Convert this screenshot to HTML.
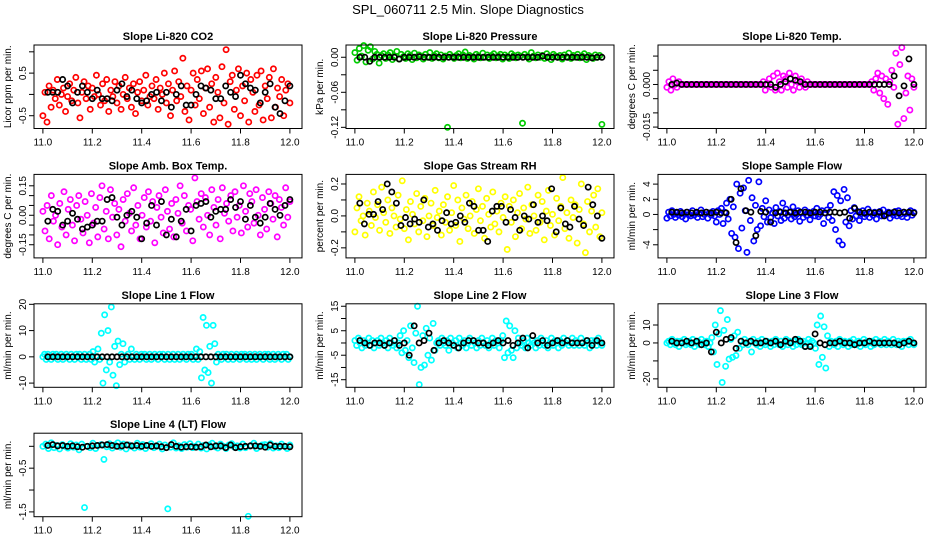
<!DOCTYPE html>
<html><head><meta charset="utf-8"><style>
html,body{margin:0;padding:0;background:#fff}
svg text{font-family:"Liberation Sans",sans-serif}
</style></head><body>
<svg id="chart" width="936" height="540" viewBox="0 0 936 540" xmlns="http://www.w3.org/2000/svg">
<rect width="936" height="540" fill="#fff"/>
<text x="468" y="14" text-anchor="middle" font-size="13">SPL_060711  2.5 Min. Slope Diagnostics</text>
</svg>
<script>
const xTicks=[11.0,11.2,11.4,11.6,11.8,12.0];
const xTickLabels=["11.0","11.2","11.4","11.6","11.8","12.0"];
const co2Color=[-50,5,-65,20,-30,10,-10,35,-25,0,15,-40,-5,25,-15,10,40,-20,-55,5,30,-10,20,-35,15,-5,45,0,-25,25,-15,35,-40,10,-5,30,-20,20,-35,0,40,-10,15,-30,25,-45,5,30,-15,10,45,-25,-5,20,-10,35,-35,15,0,50,-20,25,-50,10,55,-15,30,-5,85,-40,20,-60,10,50,-25,35,-10,55,-45,15,60,-30,25,-65,40,5,-55,65,-20,105,-70,30,45,-35,10,60,-50,20,-15,50,-65,35,5,-40,45,-25,55,-60,20,-10,40,-55,60,-30,15,-5,35,-50,10,25,-20];
const co2Black=[5,5,5,35,20,-20,5,20,5,-10,10,-10,-10,-15,10,25,-5,10,-10,-20,-15,0,5,-15,5,-30,0,20,-25,-25,0,20,15,10,-10,-10,20,5,-5,45,25,15,10,-20,5,25,-30,-45,-15,20];
const presColor=[8,-5,15,2,20,-8,12,18,-3,10,5,-10,3,6,-2,4,8,-4,2,10,-3,5,1,-2,6,3,-4,7,-1,4,2,-3,5,0,8,-2,3,6,-1,4,-3,2,-120,5,1,-2,3,6,-1,4,9,-2,3,1,-3,5,2,-1,7,0,4,-2,3,6,-1,2,5,-3,4,1,-2,6,3,-1,4,2,-113,5,1,-3,8,2,-1,4,0,3,-2,6,1,-4,5,2,0,3,-3,4,1,7,-2,3,0,5,-1,2,6,-4,3,1,-2,4,0,3,-115];
const presBlack=[0,0,-7,0,0,0,0,0,-3,0,0,0,1,0,0,0,0,0,0,0,0,0,0,0,0,0,0,0,0,0,0,0,0,0,0,0,0,2,0,0,0,0,0,0,0,0,0,-1,0,0];
const tempColor=[-1,1,-2,2,0,-1,1,0,0,0,0,0,0,0,0,0,0,0,0,0,0,0,0,0,0,0,0,0,0,0,0,0,0,0,0,0,0,0,0,0,0,0,0,0,0,0,0,0,1,-2,0,2,-1,3,-2,4,1,-2,3,2,-1,4,0,-2,3,1,-1,2,0,-1,1,0,0,0,0,0,0,0,0,0,0,0,0,0,0,0,0,0,0,0,0,0,0,0,0,0,0,0,0,0,0,0,1,-2,2,4,-3,3,-5,2,-7,1,5,-1,11,-14,7,13,-12,-3,3,-9,2,-1];
const tempBlack=[0,0.5,0,0,0,0,0,0,0,0,0,0,0,0,0,0,0,0,0,0,0,-1,0,1,2,1.5,1,0,0,0,0,0,0,0,0,0,0,0,0,0,0,0,0,0,0,3,-4,-0.5,9,0];
const ambColor=[2,-8,5,-12,10,-3,0,-15,6,-6,12,-10,3,8,-5,-13,5,10,-2,-9,7,0,-14,11,-4,4,-11,9,15,-7,2,-12,13,-1,6,-10,3,-16,8,-3,11,1,-8,14,-5,5,-12,0,9,-6,12,-3,7,-14,4,10,-1,-9,13,2,-7,6,-11,8,1,15,-4,10,-8,5,3,-13,19,7,-2,11,-6,9,0,-10,13,4,-5,8,-12,14,1,6,-3,10,-8,12,-1,5,-9,15,2,-6,11,7,-4,13,0,-10,9,3,-7,12,6,-2,10,-11,8,4,-5,14,-1,7];
const ambBlack=[-3,3,2,-5,-3,1,-2,-7,-6,-5,-3,-3,8,9,-1,-5,0,2,-1,-12,-4,5,-5,7,-10,-2,-11,-3,3,-8,5,6,7,-1,2,3,3,8,4,7,-2,5,-1,-4,-1,6,3,0,5,8];
const rhColor=[-10,5,12,-3,0,-12,8,3,-6,15,-1,7,-9,18,2,-4,10,-11,5,0,-7,13,-2,22,-8,4,-15,9,1,-5,14,-10,6,-3,11,-13,0,8,-6,16,-1,3,-12,7,-4,12,-9,2,19,-6,10,-16,5,-2,13,-8,0,9,-11,4,17,-3,6,-14,11,1,-7,15,-5,3,-10,8,-1,12,-21,6,-4,10,-13,2,14,-8,5,-2,18,-11,7,0,-9,13,-4,9,-15,3,16,-6,1,-12,11,-3,6,24,-8,2,-14,10,-1,7,-17,4,20,-5,-23,9,-10,3,13,-7,17,-13,2];
const rhBlack=[8,-5,1,1,9,4,20,15,8,-6,-1,-5,-2,-4,10,-7,-5,-9,-3,2,-5,-4,0,-4,8,6,-9,-9,-16,3,6,6,-4,4,-1,-9,0,-2,7,-4,0,-3,17,-10,5,-5,-7,6,-2,-6,18,7,0,-14];
const flowColor=[-5,3,-2,5,0,-4,2,-1,4,-3,1,-6,3,0,-2,5,-1,2,-4,1,6,-3,0,3,-5,2,-1,4,-2,-10,5,0,8,-12,3,15,-6,20,-25,10,-30,40,-45,28,-18,35,5,-50,45,-8,22,-35,12,-20,43,-15,8,-3,18,-10,6,-4,2,-12,9,-2,4,-8,15,-5,7,-1,3,-6,10,-3,0,5,-9,2,-4,6,-1,3,-7,1,4,-2,8,-3,0,5,-12,2,6,-4,12,-8,30,-20,25,-35,18,-40,33,-10,22,-15,5,-6,9,-2,4,-8,1,5,-3,0,7,-4,2,-1,3,-6,1,4,-2,6,-1,0,3,-5,2,-1,4,-2,5,0,-3,3,1,-4,2,5,-1,3];
const flowBlack=[3,3,2,3,2,3,2,3,2,3,2,2,20,-37,34,5,3,-28,4,3,-10,2,3,2,3,2,3,3,2,3,3,2,3,3,2,3,-5,8,3,2,3,2,3,-2,2,3,2,3,3,2];
const l1Color=[0,1,-1,1,0,-1,1,0,1,-1,0,1,-1,0,1,0,-1,1,0,-1,1,0,1,-1,0,1,-1,0,1,-1,2,-2,0,3,-1,9,-10,16,-5,10,-2,19,-7,4,-11,6,-3,1,5,-2,0,1,-1,3,0,-1,1,0,-1,1,0,1,-1,0,1,-1,0,1,0,-1,1,0,1,-1,0,1,-1,0,1,-1,0,1,-1,0,1,0,-1,1,0,1,-1,0,3,-1,2,-8,15,-5,12,-6,4,-10,12,5,-2,1,0,-1,1,0,1,-1,0,1,-1,0,1,0,-1,1,0,1,-1,0,1,-1,0,1,-1,0,1,0,-1,1,0,1,-1,0,1,-1,0,1,0,-1,1,0,1,-1,0];
const l1Black=[0,0,0,0,0,0,0,0,0,0,0,0,0,0,0,0,0,0,0,0,0,0,0,0,0,0,0,0,0,0,0,0,0,0,0,0,0,0,0,0,0,0,0,0,0,0,0,0,0,0];
const l2Color=[1,-1,2,0,-2,1,-1,0,2,-1,1,-2,0,1,-1,2,0,-1,1,-2,2,0,-1,1,-2,0,3,-4,5,-3,1,-6,7,-2,-8,4,15,-17,-10,3,-9,6,-5,2,-7,8,-3,0,1,-1,2,0,-1,1,-3,2,0,-1,1,-2,2,0,-1,1,-2,0,2,-1,1,0,-2,1,-1,2,0,-1,1,-2,0,2,-1,1,0,-2,1,3,-6,9,-4,7,-3,-6,5,-2,2,0,-1,1,-2,2,0,-1,1,0,-2,1,-1,2,0,-1,1,-2,0,2,-1,1,0,-2,1,-1,2,0,1,-1,0,2,-1,1,0,-1,2,0,-1,1,0,-2,1,0,1,-1,2,0,-1];
const l2Black=[1,0,-1,0,0,-1,0,1,-1,0,-5,7,0,1,4,-3,0,1,0,-1,-2,0,1,1,0,0,-1,0,1,0,1,-1,0,2,-2,3,0,1,-1,0,1,0,1,0,0,0,1,-1,1,0];
const l3Color=[0,1,-1,2,0,-1,1,-2,1,0,2,-1,0,1,-1,2,-2,0,1,-1,2,0,-1,1,-2,0,3,-5,10,-12,5,18,-22,7,-13,13,-9,2,-8,4,-7,6,-3,1,-1,2,0,-1,1,-5,2,0,-1,1,-2,2,0,-1,1,0,-2,1,-1,2,0,-1,1,-2,0,2,-1,1,0,-2,1,-1,2,0,-1,1,-2,0,2,-1,1,0,-3,10,-12,15,-8,9,-14,4,-2,1,0,-1,1,-2,2,0,-1,1,0,-2,1,-1,2,0,-1,1,-2,0,2,-1,1,0,-2,1,-1,2,0,1,-1,0,2,-1,1,0,-1,2,0,-1,1,0,-2,1,0,1,-1,2,0,-1];
const l3Black=[1,0,0,1,0,1,-1,0,-5,6,0,2,3,-3,1,0,1,0,0,1,0,1,-1,1,0,2,1,-2,-2,5,0,-1,0,0,1,0,0,-1,0,0,1,0,0,0,0,0,-1,0,1,0];
const l4Color=[0,5,-5,8,-3,2,-6,4,0,-4,6,-2,3,-8,5,-140,0,-3,7,-5,2,4,-30,-1,6,-4,3,8,-2,5,-6,3,0,-4,7,-2,4,-5,2,6,-3,0,5,-6,3,-143,-2,8,-4,1,-5,4,-2,6,-3,0,5,-4,2,-6,3,7,-1,-4,5,0,-5,3,6,-2,1,-4,5,-3,-160,2,7,-5,0,3,4,-2,6,-4,1,-3,5,0,-5,3];
const l4Black=[2,4,1,2,0,1,-1,-2,0,1,2,3,4,2,0,1,3,1,2,0,2,0,1,-1,-3,4,0,-2,-1,-1,-2,-1,3,-1,1,1,-3,3,-3,-1,0,1,1,0,-2,3,0,0,0,-1];

const panels=[
 {name:"co2",title:"Slope Li-820 CO2",ylab:"Licor ppm per min.",col:0,row:0,color:"#ff0000",c:co2Color,b:co2Black,k:0.01,ymin:-0.8,ymax:1.16,ticks:[-0.5,0,0.5,1.0],labels:["-0.5","","0.5",""]},
 {name:"pressure",title:"Slope Li-820 Pressure",ylab:"kPa per min.",col:1,row:0,color:"#00cc00",c:presColor,b:presBlack,k:0.001,ymin:-0.122,ymax:0.021,ticks:[0,-0.03,-0.06,-0.09,-0.12],labels:["0.00","","-0.06","","-0.12"]},
 {name:"li820-temp",title:"Slope Li-820 Temp.",ylab:"degrees C per min.",col:2,row:0,color:"#ff00ff",c:tempColor,b:tempBlack,k:0.001,ymin:-0.0155,ymax:0.0139,ticks:[0.01,0.005,0,-0.005,-0.01,-0.015],labels:["","","0.000","","","-0.015"]},
 {name:"amb-temp",title:"Slope Amb. Box Temp.",ylab:"degrees C per min.",col:0,row:1,color:"#ff00ff",c:ambColor,b:ambBlack,k:0.01,ymin:-0.217,ymax:0.208,ticks:[0.15,0.1,0.05,0,-0.05,-0.1,-0.15],labels:["0.15","","","0.00","","","-0.15"]},
 {name:"gas-rh",title:"Slope Gas Stream RH",ylab:"percent per min.",col:1,row:1,color:"#ffff00",c:rhColor,b:rhBlack,k:0.01,ymin:-0.263,ymax:0.26,ticks:[0.2,0.1,0,-0.1,-0.2],labels:["0.2","","0.0","","-0.2"]},
 {name:"sample-flow",title:"Slope Sample Flow",ylab:"ml/min per min.",col:2,row:1,color:"#0000ff",c:flowColor,b:flowBlack,k:0.1,ymin:-5.73,ymax:5.28,ticks:[4,2,0,-2,-4],labels:["4","2","0","","-4"]},
 {name:"line1-flow",title:"Slope Line 1 Flow",ylab:"ml/min per min.",col:0,row:2,color:"#00ffff",c:l1Color,b:l1Black,k:1,ymin:-11.6,ymax:20.2,ticks:[20,10,0,-10],labels:["20","10","0","-10"]},
 {name:"line2-flow",title:"Slope Line 2 Flow",ylab:"ml/min per min.",col:1,row:2,color:"#00ffff",c:l2Color,b:l2Black,k:1,ymin:-18.1,ymax:16,ticks:[15,10,5,0,-5,-10,-15],labels:["15","","5","","-5","","-15"]},
 {name:"line3-flow",title:"Slope Line 3 Flow",ylab:"ml/min per min.",col:2,row:2,color:"#00ffff",c:l3Color,b:l3Black,k:1,ymin:-24.7,ymax:21.8,ticks:[10,0,-10,-20],labels:["10","0","","-20"]},
 {name:"line4-flow",title:"Slope Line 4 (LT) Flow",ylab:"ml/min per min.",col:0,row:3,color:"#00ffff",c:l4Color,b:l4Black,k:0.01,ymin:-1.61,ymax:0.30,ticks:[0,-0.5,-1.0,-1.5],labels:["","-0.5","","-1.5"]}
];
const NS="http://www.w3.org/2000/svg";
const svg=document.getElementById('chart');
function mk(tag,attrs,parent){const e=document.createElementNS(NS,tag);for(const k in attrs)e.setAttribute(k,attrs[k]);(parent||svg).appendChild(e);return e;}
const XMIN=10.964,XMAX=12.049;
panels.forEach(p=>{
 const g=mk('g',{});
 
 
 const L=p.col*312+34,R=p.col*312+302,T=45+p.row*129.4,B=T+83.5;
 const sx=v=>L+(v-XMIN)/(XMAX-XMIN)*(R-L);
 const sy=v=>B-(v-p.ymin)/(p.ymax-p.ymin)*(B-T);
 const t=mk('text',{x:(L+R)/2,y:T-5,'text-anchor':'middle','font-size':11,'font-weight':'bold'},g);
 t.textContent=p.title;
 
 
 const yl=mk('text',{x:0,y:0,'text-anchor':'middle','font-size':10,transform:`translate(${p.col*312+11},${(T+B)/2}) rotate(-90)`},g);
 yl.textContent=p.ylab;
 
 
 const pts=mk('g',{fill:'none','stroke-width':1.7},g);
 
 
 p.c.forEach((v,i)=>{
  const c=mk('circle',{cx:sx(11+i/(p.c.length-1)),cy:sy(v*p.k),r:2.6,stroke:p.color},pts);
  
  
 });
 p.b.forEach((v,i)=>{
  const c=mk('circle',{cx:sx(11.02+0.98*i/(p.b.length-1)),cy:sy(v*p.k),r:2.6,stroke:'#000'},pts);
  
  
 });
 const box=mk('rect',{x:L,y:T,width:R-L,height:B-T,fill:'none',stroke:'#000','stroke-width':1},g);
 
 
 xTicks.forEach((v,i)=>{
  mk('line',{x1:sx(v),x2:sx(v),y1:B,y2:B+5,stroke:'#000'},g);
  const tl=mk('text',{x:sx(v),y:B+17,'text-anchor':'middle','font-size':10},g);
  tl.textContent=xTickLabels[i];
  
  
 });
 p.ticks.forEach((v,i)=>{
  mk('line',{x1:L-5,x2:L,y1:sy(v),y2:sy(v),stroke:'#000'},g);
  if(p.labels[i]){
   const tl=mk('text',{x:0,y:0,'text-anchor':'middle','font-size':10,transform:`translate(${L-8},${sy(v)}) rotate(-90)`},g);
   tl.textContent=p.labels[i];
   
   
  }
 });
});
</script>
</body></html>
